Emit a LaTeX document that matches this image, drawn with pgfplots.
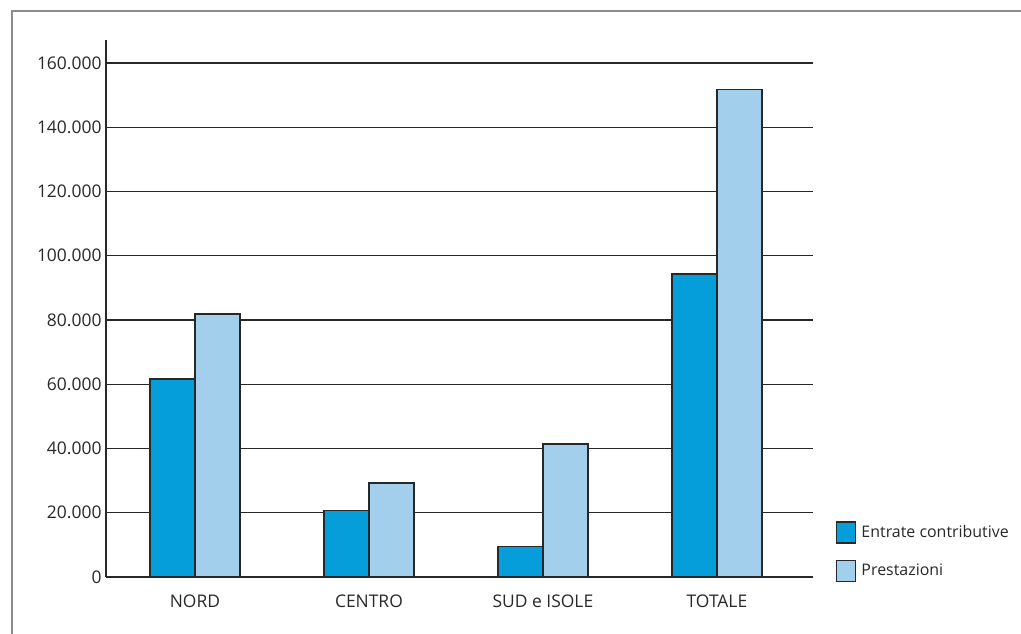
\documentclass[border=0pt]{standalone}
\usepackage{fontspec}
\setmainfont{Open Sans}
\usepackage{pgfplots}
\pgfplotsset{compat=1.18}
\definecolor{entrate}{RGB}{6,157,219}
\definecolor{prest}{RGB}{162,207,236}
\definecolor{framegray}{RGB}{140,140,140}
\definecolor{ink}{RGB}{40,40,40}

\begin{document}
\begin{tikzpicture}
\useasboundingbox (0bp,0bp) rectangle (1021bp,634bp);
% page frame (top and left edges)
\draw[framegray, line width=1.5bp] (12bp,0bp) -- (12bp,623bp) -- (1021bp,623bp);
\begin{axis}[
  at={(106bp,57bp)}, anchor=south west,
  scale only axis, width=707bp, height=537bp,
  xmin=-0.511, xmax=3.552, ymin=0, ymax=167160,
  axis x line*=bottom, axis y line*=left,
  axis line style={ink, line width=2.8bp, -},
  ybar=0pt, bar width=45bp,
  xtick={0,1,2,3},
  xticklabels={NORD,CENTRO,SUD e ISOLE,TOTALE},
  scaled y ticks=false,
  ytick={0,20000,40000,60000,80000,100000,120000,140000,160000},
  yticklabels={0,20.000,40.000,60.000,80.000,100.000,120.000,140.000,160.000},
  major tick length=0pt,
  ymajorgrids, grid style={ink, line width=1.4bp},
  tick label style={font=\fontsize{17.5}{20}\selectfont, text=ink},
  yticklabel style={xshift=-1bp},
  xticklabel style={yshift=-14bp},
  legend style={draw=none, fill=none, inner sep=0pt,
    at={(1.0325,0.104)}, anchor=north west,
    font=\fontsize{16}{19}\selectfont, text=ink,
    row sep=16bp,
    nodes={inner xsep=5bp}},
  legend cell align=left,
  sq/.style={legend image code/.code={\draw[##1, line width=1.3bp] (0bp,-10.5bp) rectangle (19bp,10.5bp);}},
]
\addplot[fill=entrate, draw=ink, line width=1.3bp, sq]
  coordinates {(0,61600) (1,20600) (2,9600) (3,94300)};
\addplot[fill=prest, draw=ink, line width=1.3bp, sq]
  coordinates {(0,81900) (1,29300) (2,41400) (3,151800)};
\legend{Entrate contributive, Prestazioni}
\end{axis}
\end{tikzpicture}
\end{document}
